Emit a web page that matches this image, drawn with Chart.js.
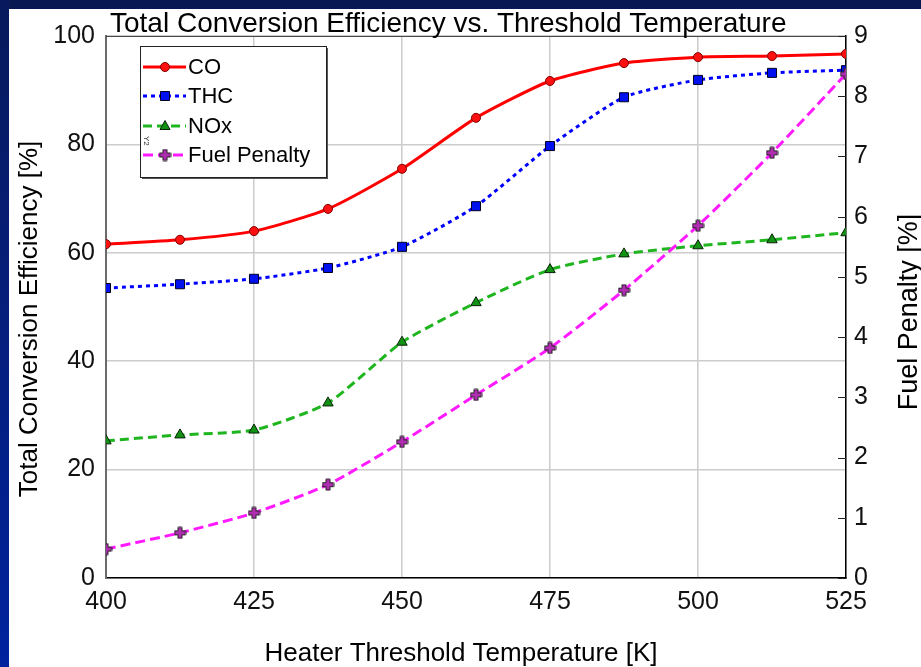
<!DOCTYPE html>
<html>
<head>
<meta charset="utf-8">
<script src="https://cdn.jsdelivr.net/npm/chart.js@4.4.1/dist/chart.umd.min.js"></script>
<style>
html, body { margin: 0; padding: 0; background: #fff; }
canvas { display: block; }
</style>
</head>
<body>
<canvas id="chart" width="921" height="667"></canvas>
<script>
const temps = [400, 412.5, 425, 437.5, 450, 462.5, 475, 487.5, 500, 512.5, 525];
const coEff = [61.6, 62.4, 64.0, 68.1, 75.5, 84.9, 91.7, 95.0, 96.1, 96.3, 96.7];
const thcEff = [53.5, 54.2, 55.2, 57.2, 61.1, 68.6, 79.7, 88.7, 91.9, 93.2, 93.7];
const noxEff = [25.3, 26.4, 27.3, 32.3, 43.5, 50.8, 56.9, 59.8, 61.3, 62.4, 63.7];
const fuelPenalty = [0.48, 0.75, 1.08, 1.55, 2.26, 3.04, 3.82, 4.78, 5.85, 7.06, 8.37];
const xTicks = [400, 425, 450, 475, 500, 525];
const leftTicks = [0, 20, 40, 60, 80, 100];
const rightTicks = [0, 1, 2, 3, 4, 5, 6, 7, 8, 9];

const FONT = '"Liberation Sans", Arial, sans-serif';

function pts(vals) {
  return temps.map((t, i) => ({ x: t, y: vals[i] }));
}

// plus marker with dark outline, used for fuel penalty
function plusMarker() {
  const c = document.createElement('canvas');
  c.width = 13; c.height = 13;
  const g = c.getContext('2d');
  const p = [[4.5,1],[8.5,1],[8.5,4.5],[12,4.5],[12,8.5],[8.5,8.5],[8.5,12],[4.5,12],[4.5,8.5],[1,8.5],[1,4.5],[4.5,4.5]];
  g.beginPath();
  p.forEach((q, i) => i ? g.lineTo(q[0], q[1]) : g.moveTo(q[0], q[1]));
  g.closePath();
  g.fillStyle = '#b02cb0';
  g.fill();
  g.strokeStyle = '#222';
  g.lineWidth = 1;
  g.stroke();
  return c;
}
const plusImg = plusMarker();

const series = [
  { label: 'CO', data: coEff, color: '#ff0000', dash: [], marker: 'circle', fill: '#ff1010', edge: '#800000' },
  { label: 'THC', data: thcEff, color: '#0000ff', dash: [4, 4], marker: 'rect', fill: '#0010ee', edge: '#000020' },
  { label: 'NOx', data: noxEff, color: '#1fb51f', dash: [9, 5], marker: 'triangle', fill: '#129212', edge: '#0a200a' },
  { label: 'Fuel Penalty', data: fuelPenalty, color: '#ff1aff', dash: [10, 5], marker: plusImg, fill: '#b02cb0', edge: '#222' }
];

function drawMarker(ctx, m, x, y, fill, edge) {
  ctx.save();
  ctx.setLineDash([]);
  ctx.fillStyle = fill;
  ctx.strokeStyle = edge;
  ctx.lineWidth = 1;
  ctx.beginPath();
  if (m === 'circle') {
    ctx.arc(x, y, 4.5, 0, Math.PI * 2);
  } else if (m === 'rect') {
    ctx.rect(x - 4.5, y - 4.5, 9, 9);
  } else if (m === 'triangle') {
    ctx.moveTo(x, y - 5.5); ctx.lineTo(x + 5, y + 3.5); ctx.lineTo(x - 5, y + 3.5); ctx.closePath();
  } else {
    ctx.drawImage(m, x - 6.5, y - 6.5);
    ctx.restore();
    return;
  }
  ctx.fill();
  ctx.stroke();
  ctx.restore();
}

const decor = {
  id: 'decor',
  beforeDraw(chart) {
    const ctx = chart.ctx;
    ctx.save();
    ctx.fillStyle = '#fff';
    ctx.fillRect(0, 0, chart.width, chart.height);
    ctx.fillStyle = '#071852';
    ctx.fillRect(0, 0, chart.width, 9);
    const g = ctx.createLinearGradient(0, 0, 0, chart.height);
    g.addColorStop(0, '#081a5c');
    g.addColorStop(1, '#00239e');
    ctx.fillStyle = g;
    ctx.fillRect(0, 0, 9, chart.height);
    ctx.restore();
  },
  afterDraw(chart) {
    const ctx = chart.ctx;
    const a = chart.chartArea;
    const y2 = chart.scales.y2;
    ctx.save();
    // top border of the box
    ctx.strokeStyle = '#4a4a4a';
    ctx.lineWidth = 1;
    ctx.beginPath();
    ctx.moveTo(a.left, a.top + 0.5);
    ctx.lineTo(a.right, a.top + 0.5);
    ctx.stroke();
    // inward ticks on right axis
    ctx.strokeStyle = '#222';
    rightTicks.forEach(v => {
      const py = Math.round(y2.getPixelForValue(v)) + 0.5;
      ctx.beginPath();
      ctx.moveTo(a.right - 8, py);
      ctx.lineTo(a.right, py);
      ctx.stroke();
    });

    // titles
    ctx.fillStyle = '#000';
    ctx.textBaseline = 'alphabetic';
    ctx.font = '28px ' + FONT;
    ctx.textAlign = 'left';
    ctx.fillText('Total Conversion Efficiency vs. Threshold Temperature', 110, 32);
    ctx.font = '26px ' + FONT;
    ctx.textAlign = 'center';
    ctx.fillText('Heater Threshold Temperature [K]', 461, 661);
    ctx.save();
    ctx.translate(37, 319);
    ctx.rotate(-Math.PI / 2);
    ctx.fillText('Total Conversion Efficiency [%]', 0, 0);
    ctx.restore();
    ctx.save();
    ctx.font = '27px ' + FONT;
    ctx.translate(917, 312);
    ctx.rotate(-Math.PI / 2);
    ctx.fillText('Fuel Penalty [%]', 0, 0);
    ctx.restore();

    // legend
    const lx = 140, ly = 46, lw = 186, lh = 131;
    ctx.fillStyle = '#555';
    ctx.fillRect(lx + 2, ly + 2, lw, lh);
    ctx.fillStyle = '#fff';
    ctx.fillRect(lx, ly, lw, lh);
    ctx.strokeStyle = '#222';
    ctx.lineWidth = 1;
    ctx.strokeRect(lx + 0.5, ly + 0.5, lw, lh);
    const rows = [67, 96, 126, 155];
    ctx.font = '22px ' + FONT;
    ctx.textAlign = 'left';
    ctx.textBaseline = 'middle';
    series.forEach((s, i) => {
      const ry = rows[i];
      ctx.strokeStyle = s.color;
      ctx.lineWidth = 3;
      ctx.setLineDash(s.dash);
      ctx.beginPath();
      ctx.moveTo(143, ry);
      ctx.lineTo(186, ry);
      ctx.stroke();
      ctx.setLineDash([]);
      drawMarker(ctx, s.marker, 165, ry, s.fill, s.edge);
      ctx.fillStyle = '#000';
      ctx.fillText(s.label, 188, ry + 1);
    });
    // small axis tag near fuel entry
    ctx.save();
    ctx.font = '8px ' + FONT;
    ctx.fillStyle = '#333';
    ctx.translate(146, 136);
    ctx.rotate(Math.PI / 2);
    ctx.textBaseline = 'middle';
    ctx.fillText('Y2', 0, 0);
    ctx.restore();
    ctx.restore();
  }
};

const datasets = series.map((s, i) => ({
  label: s.label,
  data: pts(s.data),
  yAxisID: i === 3 ? 'y2' : 'y',
  order: i === 3 ? -1 : i,
  borderColor: s.color,
  borderWidth: 3,
  borderDash: s.dash,
  tension: 0.2,
  pointStyle: s.marker,
  pointRadius: s.marker === 'rect' ? 6.4 : (s.marker === 'triangle' ? 6 : 4.5),
  pointBackgroundColor: s.fill,
  pointBorderColor: s.edge,
  pointBorderWidth: 1,
  fill: false
}));

const tickFont = { family: FONT, size: 25 };

new Chart(document.getElementById('chart').getContext('2d'), {
  type: 'line',
  data: { datasets: datasets },
  options: {
    responsive: false,
    animation: false,
    devicePixelRatio: 1,
    layout: { padding: { top: 36, left: 0, right: 0, bottom: 0 } },
    plugins: {
      legend: { display: false },
      tooltip: { enabled: false },
      title: { display: false }
    },
    scales: {
      x: {
        type: 'linear',
        min: 400,
        max: 525,
        afterBuildTicks: s => { s.ticks = xTicks.map(v => ({ value: v })); },
        afterFit: s => { s.height = 89; },
        grid: { color: '#cccccc', lineWidth: 1.5, drawTicks: false },
        border: { color: '#000', width: 1.5 },
        ticks: { padding: 9, color: '#111', font: tickFont, maxRotation: 0 }
      },
      y: {
        position: 'left',
        min: 0,
        max: 100,
        afterBuildTicks: s => { s.ticks = leftTicks.map(v => ({ value: v })); },
        afterFit: s => { s.width = 106; },
        grid: { color: '#cccccc', lineWidth: 1.5, drawTicks: false },
        border: { color: '#6a6a6a', width: 2 },
        ticks: { padding: 11, color: '#111', font: tickFont }
      },
      y2: {
        position: 'right',
        min: 0,
        max: 9,
        afterBuildTicks: s => { s.ticks = rightTicks.map(v => ({ value: v })); },
        afterFit: s => { s.width = 75; },
        grid: { drawOnChartArea: false, drawTicks: false },
        border: { color: '#000', width: 1.5 },
        ticks: { padding: 8, color: '#111', font: tickFont }
      }
    }
  },
  plugins: [decor]
});
</script>
</body>
</html>
